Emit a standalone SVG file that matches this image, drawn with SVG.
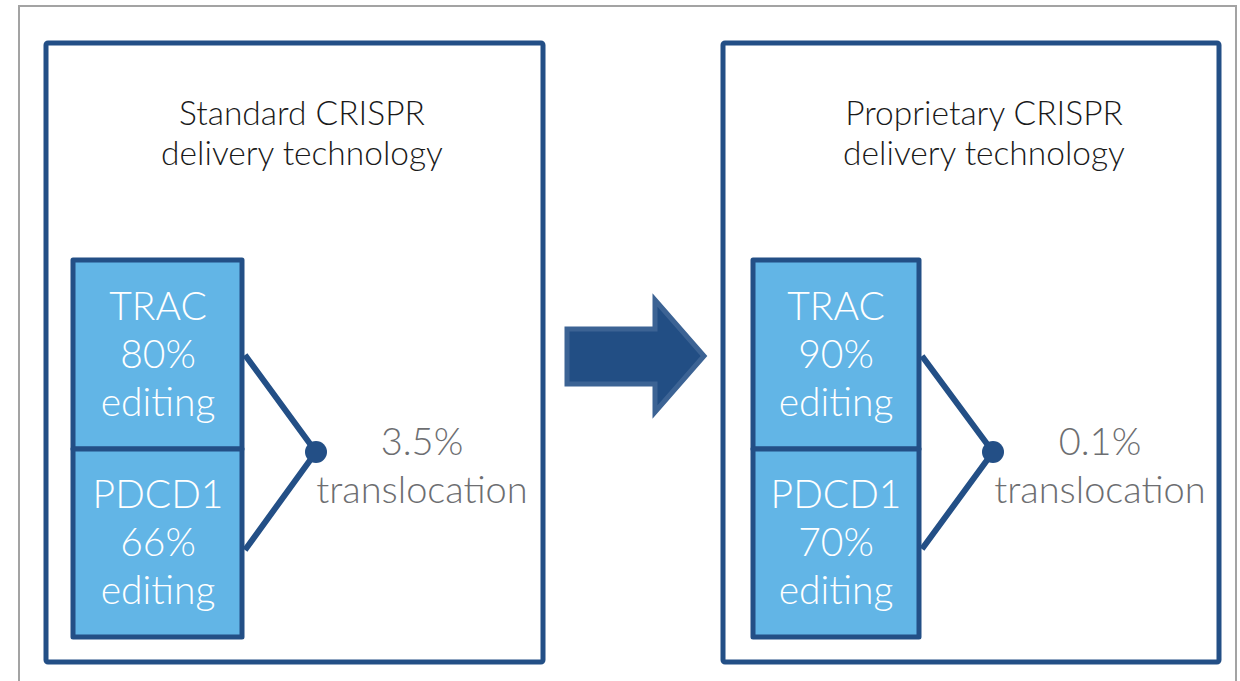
<svg xmlns="http://www.w3.org/2000/svg" width="1240" height="681" viewBox="0 0 1240 681">
<style>
.frame{fill:#ffffff;stroke:#a3a3a3;stroke-width:2}
.panel{fill:#ffffff;stroke:#234f86;stroke-width:5}
.cell{fill:#62b5e6;stroke:#234f86;stroke-width:5;stroke-linejoin:round}
.title{font-family:Lato,"Open Sans","Liberation Sans",sans-serif;font-weight:300;font-size:33.5px;fill:#1a1a1a;text-anchor:middle}
.ctext{font-family:Lato,"Open Sans","Liberation Sans",sans-serif;font-weight:300;font-size:39px;fill:#ffffff;text-anchor:middle}
.gtext{font-family:Lato,"Open Sans","Liberation Sans",sans-serif;font-weight:300;font-size:38px;fill:#6d6e71;text-anchor:middle}
.conn{fill:none;stroke:#234f86;stroke-width:6}
.dot{fill:#234f86}
.arrow{fill:#224e84;stroke:#3c6394;stroke-width:5}
</style>
<rect class="frame" x="19" y="6" width="1217" height="700"/>
<g id="left-panel">
  <rect class="panel" x="46" y="43" width="497" height="619" rx="2"/>
  <text class="title" x="302" y="125">Standard CRISPR</text>
  <text class="title" x="302" y="165">delivery technology</text>
</g>
<g id="left-trac">
  <rect class="cell" x="73" y="260" width="169" height="189"/>
  <text class="ctext" x="158" y="320">TRAC</text>
  <text class="ctext" x="158" y="368">80%</text>
  <text class="ctext" x="158" y="416">editing</text>
</g>
<g id="left-pdcd1">
  <rect class="cell" x="73" y="449" width="169" height="188"/>
  <text class="ctext" x="158" y="508">PDCD1</text>
  <text class="ctext" x="158" y="556">66%</text>
  <text class="ctext" x="158" y="604">editing</text>
</g>
<g id="left-result">
  <text class="gtext" x="422" y="455">3.5%</text>
  <text class="gtext" x="422" y="503">translocation</text>
</g>
<g id="right-panel">
  <rect class="panel" x="723" y="43" width="496" height="619" rx="2"/>
  <text class="title" x="984" y="125">Proprietary CRISPR</text>
  <text class="title" x="984" y="165">delivery technology</text>
</g>
<g id="right-trac">
  <rect class="cell" x="753" y="260" width="166" height="189"/>
  <text class="ctext" x="836" y="320">TRAC</text>
  <text class="ctext" x="836" y="368">90%</text>
  <text class="ctext" x="836" y="416">editing</text>
</g>
<g id="right-pdcd1">
  <rect class="cell" x="753" y="449" width="166" height="188"/>
  <text class="ctext" x="836" y="508">PDCD1</text>
  <text class="ctext" x="836" y="556">70%</text>
  <text class="ctext" x="836" y="604">editing</text>
</g>
<g id="right-result">
  <text class="gtext" x="1100" y="455">0.1%</text>
  <text class="gtext" x="1100" y="503">translocation</text>
</g>
<g id="arrow-node">
  <polygon class="arrow" points="567,329 655,329 655,300 704,356 655,412 655,384 567,384"/>
</g>
<g id="connectors">
  <polyline class="conn" points="245,355 316,452 245,550"/>
  <circle class="dot" cx="316" cy="452" r="11"/>
  <polyline class="conn" points="922,356 993,452 922,549"/>
  <circle class="dot" cx="993" cy="452" r="11"/>
</g>
</svg>
